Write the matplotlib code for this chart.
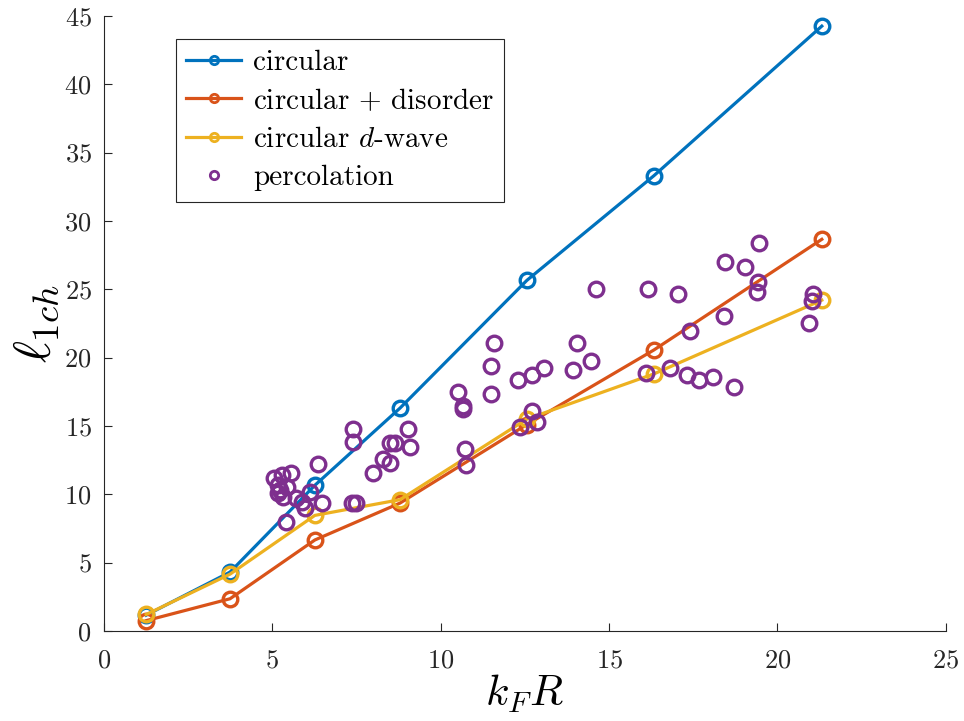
import numpy as np
import matplotlib
matplotlib.use("Agg")
import matplotlib.pyplot as plt

plt.rcParams['font.family'] = 'serif'
plt.rcParams['font.serif'] = ['cmr10']
plt.rcParams['mathtext.fontset'] = 'cm'
plt.rcParams['axes.formatter.use_mathtext'] = True

# kF*R values for the model curves
kfr = [1.25, 3.74, 6.26, 8.79, 12.56, 16.33, 21.32]
circ = [1.15, 4.3, 10.65, 16.3, 25.65, 33.3, 44.25]
circ_dis = [0.75, 2.35, 6.65, 9.35, 15.1, 20.55, 28.65]
circ_d = [1.2, 4.15, 8.45, 9.6, 15.5, 18.8, 24.2]

# percolation samples
perc_x = [5.05, 5.29, 5.55, 5.17, 5.43, 5.17, 5.31, 5.23, 5.70, 5.88, 5.97, 6.12,
          6.47, 5.40, 6.35, 7.39, 7.39, 7.48, 7.36, 7.99, 8.28, 8.49, 8.49, 8.64,
          9.03, 9.09, 10.51, 10.66, 10.66, 10.72, 10.75, 11.58, 11.49, 11.49, 12.29,
          12.71, 13.06, 12.71, 12.35, 12.86, 14.04, 13.92, 14.46, 14.61, 16.15, 16.09,
          16.81, 17.04, 17.31, 17.40, 17.67, 18.08, 18.41, 18.44, 18.71, 19.03, 19.42,
          19.39, 19.45, 21.05, 21.02, 20.93]
perc_y = [11.19, 11.41, 11.56, 10.68, 10.53, 10.10, 9.80, 10.31, 9.73, 9.44, 9.00, 10.17,
          9.36, 7.97, 12.22, 14.78, 13.83, 9.36, 9.36, 11.56, 12.58, 12.29, 13.75, 13.75,
          14.78, 13.46, 17.48, 16.46, 16.24, 13.31, 12.14, 21.07, 19.39, 17.34, 18.36,
          18.73, 19.24, 16.09, 14.92, 15.29, 21.07, 19.09, 19.75, 25.02, 25.02, 18.87,
          19.24, 24.65, 18.73, 21.95, 18.36, 18.58, 23.04, 26.99, 17.85, 26.63, 25.53,
          24.80, 28.38, 24.65, 24.14, 22.53]

blue = '#0072BD'
orange = '#D95319'
yellow = '#EDB120'
purple = '#7E2F8E'

fig = plt.figure(figsize=(9.64, 7.21), dpi=100)
ax = fig.add_axes([0.108, 0.125, 0.873, 0.853])

mk = dict(marker='o', markersize=10.5, markerfacecolor='none', markeredgewidth=2.4)
ax.plot(kfr, circ, color=blue, lw=2.3, label='circular', **mk)
ax.plot(kfr, circ_dis, color=orange, lw=2.3, label='circular $+$ disorder', **mk)
ax.plot(kfr, circ_d, color=yellow, lw=2.3, label='circular $d$-wave', **mk)
ax.plot(perc_x, perc_y, ls='none', color=purple, label='percolation', **mk)

ax.set_xlim(0, 25)
ax.set_ylim(0, 45)
ax.set_xticks(np.arange(0, 26, 5))
ax.set_yticks(np.arange(0, 46, 5))
ax.spines['top'].set_visible(False)
ax.spines['right'].set_visible(False)
for s in ['left', 'bottom']:
    ax.spines[s].set_color('#262626')
    ax.spines[s].set_linewidth(0.8)
ax.tick_params(direction='in', length=6, width=0.8, labelsize=19, colors='#262626',
               labelcolor='#262626')
ax.tick_params(axis='x', pad=13)
ax.tick_params(axis='y', pad=9)

ax.set_xlabel('$k_F R$', fontsize=31, labelpad=0)
ax.set_ylabel('$\\ell_{1ch}$', fontsize=38, labelpad=2)

leg = ax.legend(loc='upper left', bbox_to_anchor=(0.085, 0.962), fontsize=21,
                fancybox=False, edgecolor='#262626', framealpha=1,
                handlelength=1.9, handletextpad=0.4, borderpad=0.35,
                labelspacing=0.41, borderaxespad=0)
leg.get_frame().set_linewidth(0.8)
for h in leg.legend_handles:
    h.set_markersize(6)
    h.set_markeredgewidth(2)

fig.savefig('out.png', dpi=100)
